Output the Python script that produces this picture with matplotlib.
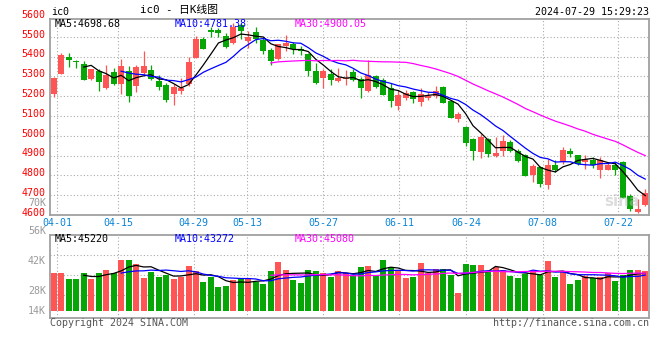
import numpy as np
import pandas as pd
import matplotlib
matplotlib.use("Agg")
from matplotlib import pyplot as plt
from matplotlib.transforms import blended_transform_factory

# данные: дневные свечи IC0, 80 торговых дней
opens = [5212, 5314, 5398, 5374, 5364, 5289, 5326, 5241, 5321, 5263,
         5326, 5250, 5318, 5330, 5275, 5258, 5212, 5226, 5260, 5394,
         5491, 5536, 5534, 5505, 5471, 5560, 5480, 5522, 5483, 5432,
         5386, 5454, 5466, 5437, 5411, 5326, 5292, 5313, 5275, 5287,
         5321, 5287, 5228, 5304, 5284, 5241, 5153, 5190, 5219, 5173,
         5193, 5199, 5245, 5176, 5084, 5044, 4982, 4918, 4982, 4897,
         4921, 4969, 4921, 4901, 4803, 4844, 4752, 4855, 4866, 4921,
         4901, 4866, 4880, 4829, 4829, 4855, 4867, 4696, 4616, 4648]
highs = [5295, 5417, 5417, 5381, 5377, 5338, 5335, 5360, 5343, 5389,
         5352, 5360, 5428, 5360, 5309, 5267, 5262, 5292, 5396, 5505,
         5500, 5548, 5545, 5517, 5568, 5568, 5531, 5548, 5497, 5446,
         5466, 5510, 5476, 5454, 5420, 5369, 5335, 5335, 5343, 5330,
         5335, 5296, 5381, 5309, 5292, 5267, 5233, 5233, 5228, 5241,
         5221, 5250, 5250, 5182, 5122, 5049, 4989, 5011, 4989, 4994,
         5003, 4977, 4935, 4909, 4858, 4849, 4884, 4880, 4943, 4938,
         4904, 4904, 4892, 4892, 4866, 4866, 4871, 4704, 4683, 4730]
lows = [5198, 5314, 5348, 5343, 5280, 5284, 5224, 5236, 5258, 5212,
        5173, 5219, 5309, 5284, 5233, 5173, 5158, 5210, 5252, 5394,
        5437, 5500, 5500, 5445, 5466, 5488, 5446, 5471, 5415, 5357,
        5382, 5428, 5411, 5408, 5301, 5263, 5241, 5258, 5272, 5258,
        5279, 5193, 5221, 5241, 5204, 5147, 5130, 5182, 5165, 5153,
        5182, 5190, 5165, 5088, 5071, 4948, 4880, 4887, 4892, 4892,
        4897, 4918, 4870, 4795, 4767, 4739, 4730, 4815, 4858, 4892,
        4855, 4832, 4838, 4785, 4829, 4803, 4685, 4619, 4611, 4645]
closes = [5292, 5406, 5382, 5372, 5284, 5335, 5270, 5309, 5262, 5352,
          5199, 5347, 5355, 5289, 5245, 5182, 5249, 5243, 5375, 5488,
          5440, 5522, 5520, 5449, 5548, 5531, 5500, 5488, 5428, 5377,
          5463, 5471, 5440, 5428, 5326, 5267, 5326, 5280, 5292, 5292,
          5284, 5241, 5309, 5245, 5207, 5176, 5207, 5216, 5185, 5212,
          5202, 5228, 5168, 5091, 5110, 4964, 4921, 4994, 4907, 4912,
          4972, 4921, 4875, 4798, 4846, 4759, 4855, 4829, 4926, 4907,
          4860, 4884, 4852, 4877, 4851, 4829, 4688, 4628, 4632, 4713]
volumes = [46100, 46100, 38400, 38400, 46100, 38400, 46100, 49300, 46100, 61500,
           61500, 56600, 39600, 47300, 41300, 43300, 38400, 40400, 54200, 48100,
           34800, 40400, 28700, 29900, 37200, 38000, 38400, 34800, 32800, 48100,
           59100, 49300, 37200, 34000, 49300, 48100, 46100, 41300, 48100, 45300,
           43300, 53000, 54200, 42100, 61500, 53000, 48100, 39600, 41300, 57800,
           45300, 50600, 50600, 43300, 21800, 56600, 55400, 55400, 48100, 53000,
           49300, 42100, 39600, 44500, 48100, 43300, 60300, 40900, 48100, 32400,
           37200, 42100, 39600, 41300, 45700, 36000, 43300, 49300, 49300, 48100]

# значения средних в заголовках панелей (как на исходной картинке)
ma_price_text = ["4698.68", "4781.38", "4900.05"]
ma_vol_text = ["45220", "43272", "45080"]

date_labels = ["04-01", "04-15", "04-29", "05-13", "05-27", "06-11", "06-24", "07-08", "07-22"]
date_pos = [0.45, 8.6, 18.7, 25.8, 35.95, 46.1, 55.1, 65.3, 75.4]
price_levels = [4600, 4700, 4800, 4900, 5000, 5100, 5200, 5300, 5400, 5500, 5600]
vol_labels = ["70K", "56K", "42K", "28K", "14K"]

RED = "#FF5555"
GREEN = "#05A605"
GRID = "#AAAAAA"
MONO = "DejaVu Sans Mono"
FS = 7.2

W, H = 660, 360


def box(l, t, r, b):
    return [l / W, 1 - b / H, (r - l) / W, (b - t) / H]


df = pd.DataFrame({"o": opens, "h": highs, "l": lows, "c": closes, "v": volumes})
x = np.arange(len(df))
up = df["c"] >= df["o"]
colors = np.where(up, RED, GREEN)

fig = plt.figure(figsize=(W / 100, H / 100), dpi=100)
ax = fig.add_axes(box(50, 19, 649, 215))
axv = fig.add_axes(box(50, 234.7, 649, 317.7))

# свечи
ax.vlines(x, df["l"], df["h"], colors=colors, linewidth=0.9, zorder=3)
body_lo = np.minimum(df["o"], df["c"])
body_h = np.maximum(np.abs(df["c"] - df["o"]), 4)
ax.bar(x, body_h, bottom=body_lo, width=0.8, color=colors, linewidth=0, zorder=4)

ma_style = [(5, "black"), (10, "#0000FF"), (30, "#FF00FF")]
for n, col in ma_style:
    ax.plot(x, df["c"].rolling(n).mean(), color=col, linewidth=0.9, zorder=5)
    axv.plot(x, df["v"].rolling(n).mean(), color=col, linewidth=0.9, zorder=5)

ax.set_xlim(-0.5, len(df) - 0.5)
ax.set_ylim(4600, 5590)
ax.set_yticks(price_levels[1:-1])
ax.set_xticks(date_pos, date_labels)
ax.tick_params(axis="y", length=0, labelleft=False)
ax.tick_params(axis="x", length=0, pad=2, labelsize=FS, labelcolor="#0A84D6")
for lab in ax.get_xticklabels():
    lab.set_family(MONO)
ax.grid(color=GRID, linestyle=(0, (1, 2)), linewidth=0.8)

trans = blended_transform_factory(ax.transAxes, ax.transData)
for p in price_levels:
    ax.annotate(str(p), xy=(-0.007, p), xycoords=trans, xytext=(0, 1.6),
                textcoords="offset points", ha="right", va="center",
                color="#FF0000", fontsize=FS, family=MONO)

# объём
axv.bar(x, df["v"], width=0.8, color=colors, linewidth=0, zorder=3)
axv.set_xlim(-0.5, len(df) - 0.5)
vlo, vhi = -8500, 92200
axv.set_ylim(vlo, vhi)
axv.set_yticks([vlo + (vhi - vlo) * f for f in (0.27, 0.51, 0.755)])
axv.set_xticks(date_pos)
axv.tick_params(length=0, labelleft=False, labelbottom=False)
axv.grid(color=GRID, linestyle=(0, (1, 2)), linewidth=0.8)

for a in (ax, axv):
    for s in a.spines.values():
        s.set_color("#A0A0A0")
        s.set_linewidth(1.3)

for lab, ypx in zip(vol_labels, [203.5, 231, 260.7, 290.7, 310.7]):
    fig.text(46 / W, 1 - ypx / H, lab, ha="right", va="center",
             color="#999999", fontsize=FS, family=MONO)

# подписи средних
for (n, col), xp, pt, vt in zip(ma_style, [55, 175, 295], ma_price_text, ma_vol_text):
    fig.text(xp / W, 1 - 24 / H, "MA%d:%s" % (n, pt), color=col,
             fontsize=FS, family=MONO, va="center")
    fig.text(xp / W, 1 - 238.5 / H, "MA%d:%s" % (n, vt), color=col,
             fontsize=FS, family=MONO, va="center")

fig.text(51 / W, 1 - 12 / H, "ic0", fontsize=FS, family=MONO, va="center")
fig.text(140 / W, 1 - 10 / H, "ic0 - 日K线图", fontsize=FS + 0.6,
         family=[MONO, "Noto Sans CJK SC"], va="center")
fig.text(649 / W, 1 - 12 / H, "2024-07-29 15:29:23", fontsize=FS,
         family=MONO, ha="right", va="center")
fig.text(50 / W, 1 - 323.5 / H, "Copyright 2024 SINA.COM", fontsize=FS,
         family=MONO, color="#555555", va="center")
fig.text(649 / W, 1 - 323.5 / H, "http://finance.sina.com.cn", fontsize=FS,
         family=MONO, color="#555555", ha="right", va="center")

# водяной знак
ax.text(0.985, 0.03, "sina", transform=ax.transAxes, ha="right", va="bottom",
        fontsize=11, fontweight="bold", color="#BBBBBB", alpha=0.5, zorder=6)

fig.savefig("out.png", dpi=100)
